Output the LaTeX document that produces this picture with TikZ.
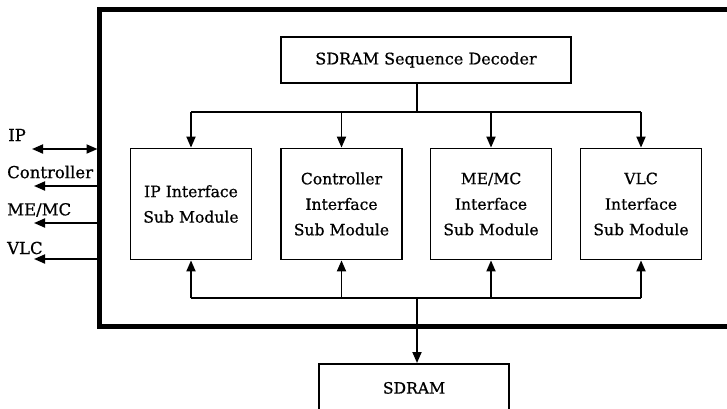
\documentclass[tikz,border=0pt]{standalone}
\usepackage{fontspec}
\setmainfont{DejaVu Serif}[BoldFont=DejaVu Serif,BoldFeatures={FakeBold=0.7}]
\usetikzlibrary{arrows.meta,calc}
\tikzset{
  conn/.style={line width=1.8pt},
  arr/.style={conn,-{Triangle[length=11pt,width=9pt]}},
  darr/.style={conn,{Triangle[length=11pt,width=9pt]}-{Triangle[length=11pt,width=9pt]}},
  blk/.style={draw,line width=1.8pt,inner sep=0pt,align=center,
    font=\fontsize{15.6}{25.5}\selectfont\bfseries},
  modbox/.style={blk,minimum width=121pt,minimum height=111pt},
  sig/.style={anchor=west,inner sep=0pt,font=\fontsize{16.5}{18}\selectfont\bfseries},
}
\begin{document}
\begin{tikzpicture}[x=1pt,y=-1pt]
\useasboundingbox (0,0) rectangle (727,408);
\clip (0,0) rectangle (727,408);

% enclosing controller frame, open to the right
\draw[line width=4.5pt] (740,9.5) -- (99.5,9.5) -- (99.5,326.5) -- (740,326.5);

% decoder and interface sub modules
\node[blk,minimum width=290pt,minimum height=46pt,font=\fontsize{16}{18}\selectfont\bfseries]
  (dec) at (426,60) {SDRAM Sequence Decoder};
\node[modbox] (m1) at (191,204) {IP Interface\\Sub Module};
\node[modbox] (m2) at (341.5,204) {Controller\\Interface\\Sub Module};
\node[modbox] (m3) at (491,204) {ME/MC\\Interface\\Sub Module};
\node[modbox] (m4) at (641,204) {VLC\\Interface\\Sub Module};

% external memory
\node[blk,minimum width=190pt,minimum height=48pt,anchor=north] (sdram) at (414,363) {SDRAM};

% command bus from the decoder
\coordinate (busTop) at (417,112);
\draw[conn] (dec.south -| busTop) -- (busTop);
\draw[conn] (m1.north |- busTop) -- (m4.north |- busTop);
\foreach \m in {m1,m2,m3,m4}
  \draw[arr] (\m.north |- busTop) -- (\m.north);

% data bus to the memory
\coordinate (busBot) at (417,298);
\draw[conn] (m1.south |- busBot) -- (m4.south |- busBot);
\foreach \m in {m1,m2,m3,m4}
  \draw[arr] (\m.south |- busBot) -- (\m.south);
\draw[arr] (busBot) -- (busBot |- sdram.north);

% external ports on the left
\node[sig] (lIP) at (8,135) {IP};
\node[sig] (lCtl) at (7,172) {Controller};
\node[sig] (lME) at (7,210) {ME/MC};
\node[sig] (lVLC) at (7,248) {VLC};
\coordinate (pIP) at (97.5,149);
\coordinate (pCtl) at (97.5,186);
\coordinate (pME) at (97.5,223);
\coordinate (pVLC) at (97.5,259);
\draw[darr] (pIP) -- (32,149);
\draw[arr] (pCtl) -- (34,186);
\draw[arr] (pME) -- (34,223);
\draw[arr] (pVLC) -- (34,259);
\end{tikzpicture}
\end{document}
